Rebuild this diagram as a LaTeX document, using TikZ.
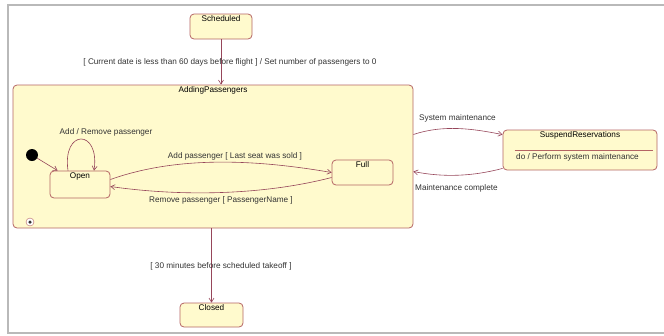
\documentclass[tikz,border=0pt]{standalone}
\usepackage{fontspec}
\setmainfont{Liberation Sans}
\usetikzlibrary{positioning, arrows.meta, calc}
\definecolor{stateline}{RGB}{180,100,100}
\definecolor{statefill}{RGB}{255,250,205}
\definecolor{transline}{RGB}{150,70,90}

\begin{document}
\begin{tikzpicture}[x=1pt, y=-1pt,
      state/.style={draw=stateline, fill=statefill, rounded corners=4pt,
                    line width=0.8pt, inner sep=0pt,
                    font=\fontsize{8.2}{9.5}\selectfont},
      title/.style={label={[font=\fontsize{8.2}{9.5}\selectfont,
                    anchor=north, inner sep=2pt]north:#1}},
      lbl/.style={font=\fontsize{8.2}{9.5}\selectfont, text=black!80, inner sep=1pt},
      trans/.style={-{Straight Barb[length=4pt, width=5pt]}, line width=0.6pt, transline}]
    \useasboundingbox (0,0) rectangle (664,335);
    % frame of the screenshot
    \draw[gray!55, line width=1.5pt] (664,5) -- (8,5) -- (8,333) -- (664,333);

    % states
    \node[state, minimum width=62pt, minimum height=25pt, title=Scheduled] (sched) at (221,26.5) {};
    \node[state, minimum width=400pt, minimum height=143pt, title=AddingPassengers] (adding) at (213,156.5) {};
    \node[state, minimum width=60pt, minimum height=27pt, title=Open] (open) at (80,184.5) {};
    \node[state, minimum width=61pt, minimum height=25pt, title=Full] (full) at (362.5,172.5) {};
    \node[state, minimum width=154pt, minimum height=40pt, title=SuspendReservations] (susp) at (580,150) {};
    \node[state, minimum width=63pt, minimum height=24pt, title=Closed] (closed) at (211.5,315) {};
    \draw[stateline, line width=0.8pt] ($(susp.west)+(12,0)$) -- ($(susp.east)+(-4,0)$);
    \node[lbl, anchor=west] (doact) at (515,157.5) {do / Perform system maintenance};

    % pseudo states
    \node[circle, fill=black, minimum size=12pt, inner sep=0pt] (init) at (32,155) {};
    \node[circle, draw=stateline, fill=white, minimum size=8pt, inner sep=0pt] (hist) at (30,222) {};
    \node[circle, fill=black!80, minimum size=3.5pt, inner sep=0pt] at (hist) {};

    % transitions
    \draw[trans] (sched) -- (sched |- adding.north);
    \node[lbl] (guard1) at (230,62) {[ Current date is less than 60 days before flight ] / Set number of passengers to 0};
    \draw[trans] (init) -- ($(open.north west)+(8,0)$);
    \draw[trans] ($(open.north)+(-12,0)$) .. controls +(-6,-42) and +(6,-42) .. ($(open.north)+(14,0)$);
    \node[lbl] (loop) at (106,132) {Add / Remove passenger};
    \draw[trans] ($(open.east)+(0,-5)$) .. controls +(70,-25) and +(-70,-12) .. (full.west);
    \node[lbl] (addp) at (235,156) {Add passenger [ Last seat was sold ]};
    \draw[trans] ($(full.west)+(0,5)$) .. controls +(-70,18) and +(70,10) .. ($(open.east)+(0,2)$);
    \node[lbl] (remp) at (221,200) {Remove passenger [ PassengerName ]};
    \draw[trans] ($(adding.east)+(0,-22)$) .. controls +(30,-10) and +(-30,-6) .. ($(susp.north west)+(0,5)$);
    \node[lbl, anchor=west] (sysm) at (418,118) {System maintenance};
    \draw[trans] ($(susp.south west)+(0,-2)$) .. controls +(-30,8) and +(30,6) .. ($(adding.east)+(0,15)$);
    \node[lbl, anchor=west] (mcomp) at (414,188) {Maintenance complete};
    \draw[trans] (adding.south -| closed) -- (closed);
    \node[lbl] (guard2) at (221,266) {[ 30 minutes before scheduled takeoff ]};
  \end{tikzpicture}
\end{document}
